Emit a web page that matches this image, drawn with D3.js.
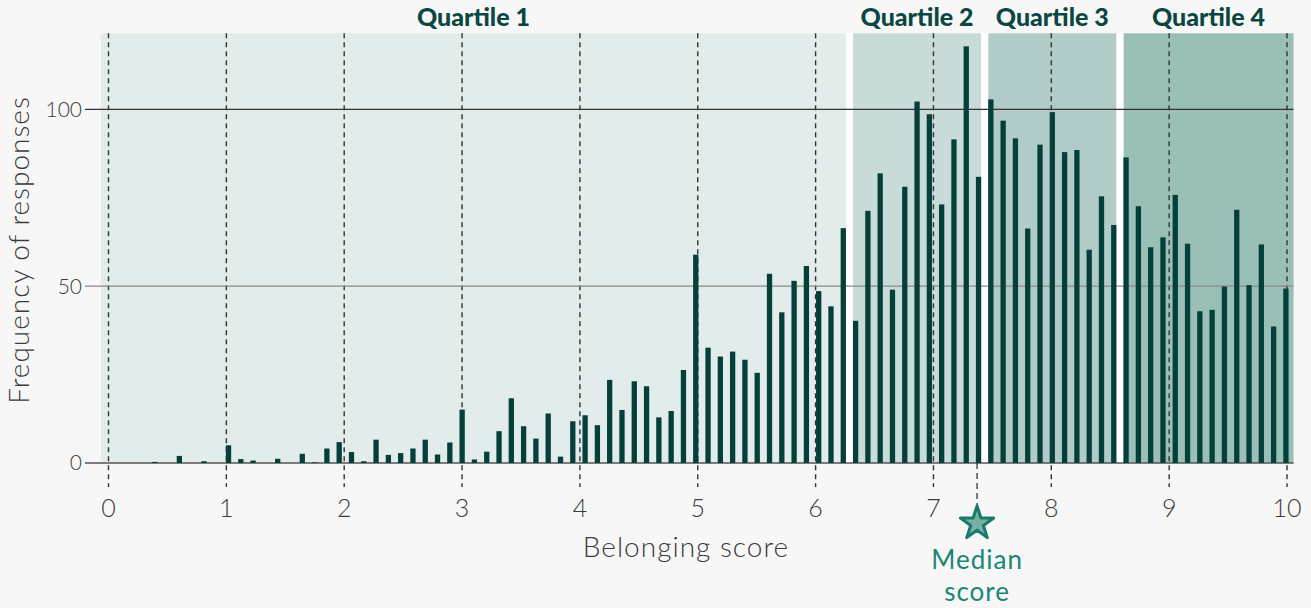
<!DOCTYPE html>
<html>
<head>
<meta charset="utf-8">
<script src="https://cdn.jsdelivr.net/npm/d3@7"></script>
<style>
  html, body { margin: 0; padding: 0; background: #f7f7f7; }
  svg { display: block; font-family: Lato, "Open Sans", sans-serif; }
</style>
</head>
<body>
<svg id="chart" width="1311" height="608"></svg>
<script>
// ---- data ----
// frequency of responses per belonging-score bin (97 bins from 0 to 10)
const frequencies = [
  0, 0, 0, 0, 0.3, 0, 2, 0, 0.5, 0,
  5, 1.1, 0.7, 0, 1.2, 0, 2.6, 0.2, 4.1, 5.9,
  3.1, 0.5, 6.6, 2.3, 2.8, 4.1, 6.6, 2.4, 5.8, 15.1,
  1.0, 3.2, 9.0, 18.3, 10.4, 6.9, 14.0, 1.8, 11.8, 13.5,
  10.7, 23.5, 15.0, 23.1, 21.7, 12.9, 14.7, 26.3, 58.9, 32.6,
  30.1, 31.5, 29.2, 25.5, 53.5, 42.6, 51.5, 55.7, 48.6, 44.3,
  66.4, 40.2, 71.3, 81.9, 49.0, 78.1, 102.2, 98.6, 73.1, 91.5,
  117.8, 80.9, 102.8, 96.8, 91.8, 66.3, 90.0, 99.2, 87.9, 88.5,
  60.3, 75.4, 67.3, 86.4, 72.6, 61.0, 63.8, 75.8, 62.0, 42.9,
  43.3, 49.9, 71.6, 50.3, 61.8, 38.6, 49.3
];
const binIds = frequencies.map((_, i) => i);
const quartileLabels = ["Quartile 1", "Quartile 2", "Quartile 3", "Quartile 4"];
const quartileFirstBin = [0, 61, 72, 83];
const quartileLastBin = [60, 71, 82, 96];
const quartileColors = ["#e2ecea", "#c9dbd9", "#b1ccc8", "#99bfb7"];
const xTicks = [0, 1, 2, 3, 4, 5, 6, 7, 8, 9, 10];
const yTicks = [0, 50, 100];
const medianScore = 7.37;

// ---- layout ----
const svg = d3.select("#chart");
const x = d3.scaleLinear().domain([0, 10]).range([108.5, 1287]);
const y = d3.scaleLinear().domain([0, 100]).range([463, 109.3]);
const bandStart = -0.077, bandEnd = 10.043;
const pInner = 0.57;
const xb = d3.scaleBand().domain(binIds).range([x(bandStart), x(bandEnd)])
  .paddingInner(pInner).paddingOuter(pInner / 2);
const step = xb.step();
const padLeft = (step - xb.bandwidth()) / 2; // bars centred in their step
const topY = y(121.5);
const gap = 3.5;
const textColor = "#3b3b3b";
const dark = "#053f3a";

// quartile backgrounds
const qg = svg.append("g");
quartileLabels.forEach((lab, q) => {
  const left = xb(quartileFirstBin[q]) - padLeft + (q === 0 ? 1.5 : gap);
  const right = xb(quartileLastBin[q]) - padLeft + step - (q === 3 ? -1.5 : gap);
  qg.append("rect")
    .attr("x", left).attr("y", topY)
    .attr("width", right - left).attr("height", y(0) - topY)
    .attr("fill", quartileColors[q]);
  svg.append("text")
    .attr("x", (left + right) / 2).attr("y", 26)
    .attr("text-anchor", "middle")
    .attr("font-size", 25).attr("font-weight", 900)
    .attr("fill", "#0b4741")
    .text(lab);
});
// white gaps
quartileFirstBin.slice(1).forEach(b => {
  const cx = xb(b) - padLeft;
  svg.append("rect").attr("x", cx - gap).attr("y", topY)
    .attr("width", 2 * gap).attr("height", y(0) - topY).attr("fill", "#ffffff");
});

// vertical dashed gridlines
svg.append("g").selectAll("line").data(xTicks).join("line")
  .attr("x1", d => x(d)).attr("x2", d => x(d))
  .attr("y1", topY).attr("y2", 487)
  .attr("stroke", "#333").attr("stroke-width", 1.4)
  .attr("stroke-dasharray", "5,4");

// horizontal gridlines
const gridColor = { 0: "#555", 50: "#8a8a8a", 100: "#333" };
svg.append("g").selectAll("line").data(yTicks).join("line")
  .attr("x1", 85).attr("x2", xb(96) - padLeft + step + 1.5)
  .attr("y1", d => y(d)).attr("y2", d => y(d))
  .attr("stroke", d => gridColor[d])
  .attr("stroke-width", d => d === 0 ? 1.6 : 1.2);

// bars
svg.append("g").selectAll("rect").data(frequencies).join("rect")
  .attr("x", (d, i) => xb(i))
  .attr("width", xb.bandwidth())
  .attr("y", d => y(d))
  .attr("height", d => y(0) - y(d))
  .attr("fill", dark);

// x tick labels
svg.append("g").selectAll("text").data(xTicks).join("text")
  .attr("x", d => x(d)).attr("y", 517)
  .attr("text-anchor", "middle")
  .attr("font-size", 25).attr("font-weight", 300)
  .attr("fill", textColor)
  .text(d => d);

// y tick labels
svg.append("g").selectAll("text").data(yTicks).join("text")
  .attr("x", 82).attr("y", d => y(d))
  .attr("dy", "0.35em")
  .attr("text-anchor", "end")
  .attr("font-size", 21).attr("font-weight", 300)
  .attr("fill", textColor)
  .text(d => d);

// axis titles
svg.append("text")
  .attr("x", 686).attr("y", 557)
  .attr("text-anchor", "middle")
  .attr("font-size", 28).attr("font-weight", 300)
  .attr("letter-spacing", 1)
  .attr("fill", textColor)
  .text("Belonging score");
svg.append("text")
  .attr("transform", "translate(29,250) rotate(-90)")
  .attr("text-anchor", "middle")
  .attr("font-size", 28).attr("font-weight", 300)
  .attr("letter-spacing", 1)
  .attr("fill", textColor)
  .text("Frequency of responses");

// median marker
const mx = x(medianScore);
svg.append("line")
  .attr("x1", mx).attr("x2", mx).attr("y1", y(0)).attr("y2", 506)
  .attr("stroke", "#333").attr("stroke-width", 1.3)
  .attr("stroke-dasharray", "6,4");
const starR = 17.5;
svg.append("path")
  .attr("d", d3.symbol(d3.symbolStar, starR * starR / 0.8908130915292852)())
  .attr("transform", `translate(${mx},${523.5})`)
  .attr("fill", "#79aea4").attr("stroke", "#177a6c")
  .attr("stroke-width", 3).attr("stroke-linejoin", "round");
svg.append("text")
  .attr("x", mx).attr("y", 569)
  .attr("text-anchor", "middle")
  .attr("font-size", 26).attr("font-weight", 400)
  .attr("letter-spacing", 1)
  .attr("fill", "#1b8574")
  .text("Median");
svg.append("text")
  .attr("x", mx).attr("y", 601)
  .attr("text-anchor", "middle")
  .attr("font-size", 26).attr("font-weight", 400)
  .attr("letter-spacing", 1)
  .attr("fill", "#1b8574")
  .text("score");
</script>
</body>
</html>
